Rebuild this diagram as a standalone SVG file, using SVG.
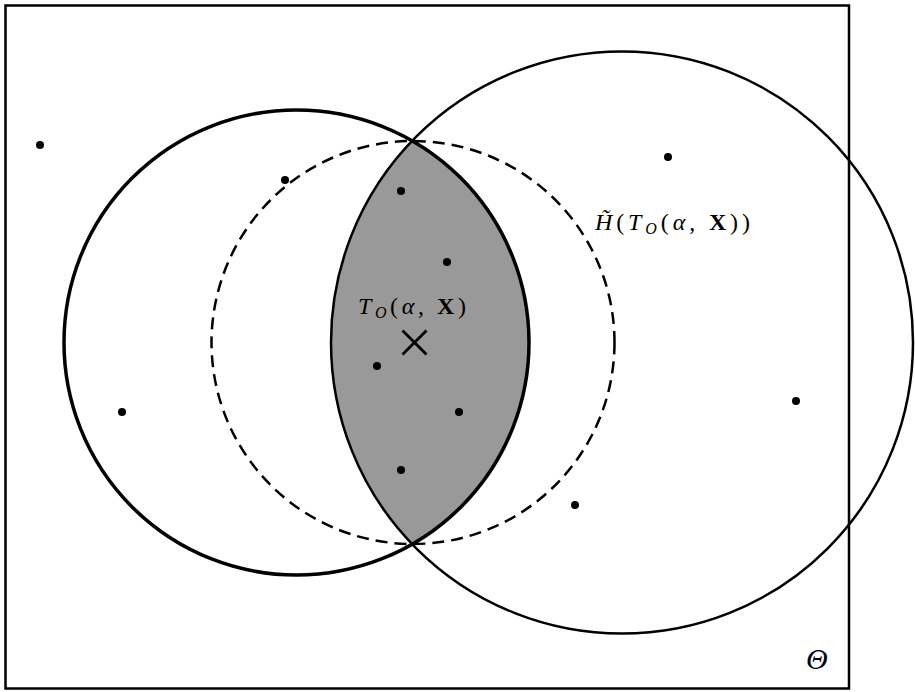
<svg xmlns="http://www.w3.org/2000/svg" width="915" height="692" viewBox="0 0 915 692">
<defs>
<style>
.dot{fill:#000}
.lbl{font-family:"Liberation Serif","DejaVu Serif",serif;font-size:24px;fill:#000}
.it{font-style:italic}
.bf{font-weight:bold}
.th{font-size:30px}
</style>
<clipPath id="clipL"><circle cx="296.5" cy="342.5" r="232.5"/></clipPath>
</defs>
<rect width="915" height="692" fill="#fff"/>
<g id="frame"><rect x="5.5" y="5.5" width="843.5" height="683" fill="none" stroke="#000" stroke-width="2.5"/></g>
<g id="lens"><circle cx="622" cy="342.5" r="291" fill="#999" clip-path="url(#clipL)"/></g>
<g id="circles" fill="none" stroke="#000">
<circle id="dashedCircle" cx="413" cy="342.5" r="201.5" stroke-width="2.5" stroke-dasharray="12 7"/>
<circle id="leftCircle" cx="296.5" cy="342.5" r="232.5" stroke-width="3.5"/>
<circle id="rightCircle" cx="622" cy="342.5" r="291" stroke-width="2.5"/>
</g>
<g id="points">
<circle class="dot" cx="40" cy="145" r="4"/>
<circle class="dot" cx="285" cy="180" r="4"/>
<circle class="dot" cx="401" cy="191" r="4"/>
<circle class="dot" cx="447" cy="262" r="4"/>
<circle class="dot" cx="377" cy="366" r="4"/>
<circle class="dot" cx="459" cy="412" r="4"/>
<circle class="dot" cx="401" cy="470" r="4"/>
<circle class="dot" cx="575" cy="505" r="4"/>
<circle class="dot" cx="122" cy="412" r="4"/>
<circle class="dot" cx="668" cy="157" r="4"/>
<circle class="dot" cx="796" cy="401" r="4"/>
</g>
<g id="center" stroke="#000" stroke-width="2.8">
<line x1="402.5" y1="330.5" x2="426.5" y2="354.5"/>
<line x1="426.5" y1="330.5" x2="402.5" y2="354.5"/>
</g>
<g id="labelT"><text class="lbl" x="358" y="314" textLength="108"><tspan class="it">T</tspan><tspan class="it" font-size="16" dy="4">O</tspan><tspan dy="-4">(</tspan><tspan class="it">α</tspan><tspan>, </tspan><tspan class="bf">X</tspan><tspan>)</tspan></text></g>
<g id="labelH"><text class="lbl" x="595" y="230" textLength="155"><tspan class="it">H̃</tspan><tspan>(</tspan><tspan class="it">T</tspan><tspan class="it" font-size="16" dy="4">O</tspan><tspan dy="-4">(</tspan><tspan class="it">α</tspan><tspan>, </tspan><tspan class="bf">X</tspan><tspan>))</tspan></text></g>
<g id="labelTheta"><text class="lbl it th" x="806" y="669">Θ</text></g>
</svg>
